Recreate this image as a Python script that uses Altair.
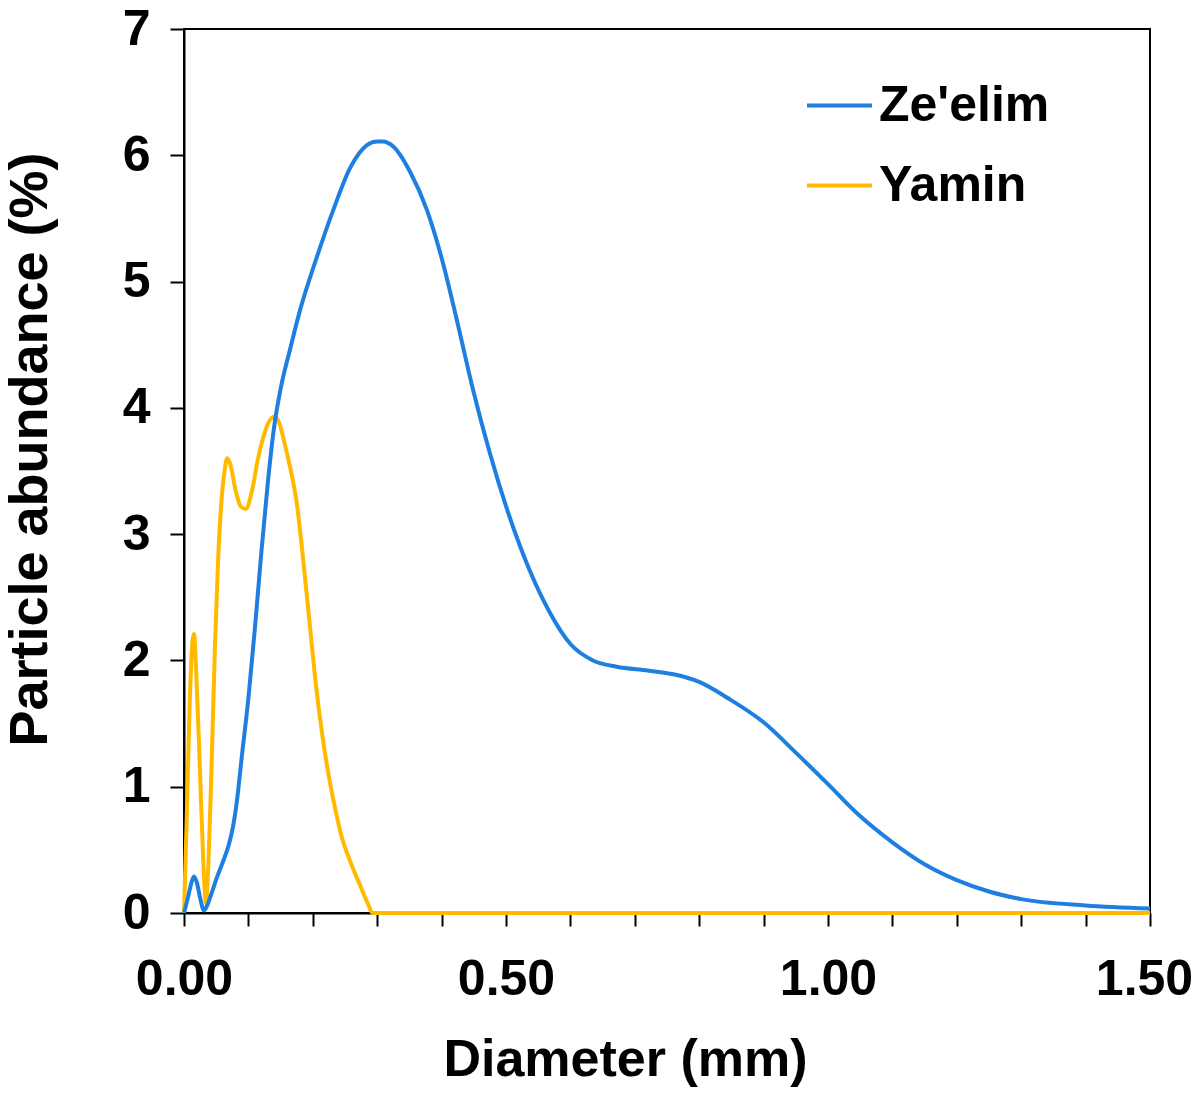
import altair as alt
import pandas as pd

# ---- data ----
zeelim_d = [0.0, 0.006, 0.011, 0.0155, 0.020, 0.025, 0.031, 0.036, 0.043, 0.051,
            0.060, 0.069, 0.076, 0.082, 0.090, 0.100, 0.110, 0.120, 0.130, 0.140,
            0.150, 0.165, 0.180, 0.206, 0.232, 0.258, 0.284, 0.300, 0.309, 0.325,
            0.351, 0.377, 0.403, 0.423, 0.449, 0.475, 0.506, 0.537, 0.568, 0.600,
            0.635, 0.672, 0.720, 0.760, 0.800, 0.845, 0.900, 0.950, 1.000, 1.045,
            1.100, 1.152, 1.200, 1.250, 1.300, 1.400, 1.500]
zeelim_v = [0.0, 0.12, 0.23, 0.29, 0.24, 0.12, 0.02, 0.06, 0.16, 0.28,
            0.40, 0.53, 0.68, 0.88, 1.25, 1.70, 2.25, 2.85, 3.40, 3.85,
            4.15, 4.47, 4.77, 5.19, 5.57, 5.90, 6.08, 6.11, 6.11, 6.07,
            5.87, 5.57, 5.13, 4.71, 4.14, 3.64, 3.13, 2.71, 2.38, 2.13,
            2.00, 1.95, 1.92, 1.89, 1.83, 1.70, 1.51, 1.27, 1.02, 0.79,
            0.56, 0.38, 0.26, 0.17, 0.11, 0.06, 0.035]

yamin_d = [0.0, 0.004, 0.0085, 0.0125, 0.0155, 0.019, 0.025, 0.030, 0.034, 0.038,
           0.043, 0.048, 0.053, 0.058, 0.063, 0.067, 0.072, 0.080, 0.088, 0.096,
           0.105, 0.115, 0.125, 0.133, 0.140, 0.148, 0.157, 0.166, 0.175, 0.185,
           0.195, 0.205, 0.215, 0.225, 0.235, 0.245, 0.255, 0.265, 0.275, 0.285,
           0.293, 0.50, 1.00, 1.50]
yamin_v = [0.0, 0.7, 1.6, 2.1, 2.21, 1.9, 1.1, 0.4, 0.08, 0.4,
           1.2, 2.1, 2.8, 3.25, 3.5, 3.6, 3.55, 3.35, 3.22, 3.2,
           3.33, 3.6, 3.8, 3.9, 3.93, 3.88, 3.7, 3.5, 3.25, 2.8,
           2.3, 1.8, 1.4, 1.08, 0.82, 0.6, 0.45, 0.32, 0.2, 0.08,
           0.0, 0.0, 0.0, 0.0]

series_names = ["Ze'elim", "Yamin"]
series_colors = ["#1E7FE0", "#FFBA00"]

x_ticks = [0.0, 0.1, 0.2, 0.3, 0.4, 0.5, 0.6, 0.7, 0.8, 0.9, 1.0, 1.1, 1.2, 1.3, 1.4, 1.5]
x_labeled = [0.0, 0.5, 1.0, 1.5]
y_ticks = [0, 1, 2, 3, 4, 5, 6, 7]

df = pd.concat([
    pd.DataFrame({"d": zeelim_d, "v": zeelim_v, "s": series_names[0]}),
    pd.DataFrame({"d": yamin_d, "v": yamin_v, "s": series_names[1]}),
], ignore_index=True)

FONT = "Liberation Sans"
label_list = ",".join(str(v) for v in x_labeled)

x_enc = alt.X("d:Q",
              scale=alt.Scale(domain=[0, 1.5], nice=False, zero=False),
              axis=alt.Axis(values=x_ticks,
                            labelExpr=f"indexof([{label_list}], datum.value) >= 0 ? format(datum.value, '.2f') : ''",
                            labelOffset={"condition": {"test": "datum.value == 1.5", "value": -6}, "value": 0},
                            title="Diameter (mm)",
                            tickSize=13, labelPadding=28,
                            titleX=441, titleY=146,
                            titleAlign="center", titleBaseline="middle",
                            grid=False))
y_enc = alt.Y("v:Q",
              scale=alt.Scale(domain=[0, 7], nice=False),
              axis=alt.Axis(values=y_ticks, format="d",
                            title="Particle abundance (%)",
                            titleFontSize=54,
                            tickSize=14, labelPadding=20,
                            titleX=-154, titleY=420, titleAngle=270,
                            titleAlign="center", titleBaseline="middle",
                            grid=False))
color_enc = alt.Color("s:N",
                      scale=alt.Scale(domain=series_names, range=series_colors),
                      legend=alt.Legend(title=None, orient="none",
                                        legendX=621, legendY=42,
                                        symbolType="stroke", symbolSize=4225,
                                        symbolStrokeWidth=4,
                                        labelFontSize=50, labelFont=FONT,
                                        labelFontWeight="bold", labelColor="black",
                                        labelLimit=600,
                                        rowPadding=20, labelOffset=5, padding=0))

base = alt.Chart(df).mark_line(interpolate="monotone", strokeWidth=4)

yamin_layer = base.transform_filter(alt.datum.s == series_names[1]).encode(
    x=x_enc, y=y_enc, color=color_enc)
zeelim_layer = base.transform_filter(alt.datum.s == series_names[0]).encode(
    x=x_enc, y=y_enc, color=color_enc)

chart = alt.layer(yamin_layer, zeelim_layer).properties(
    width=966, height=884,
    autosize=alt.AutoSizeParams(type="none"),
    padding={"left": 176, "top": 21, "right": 42, "bottom": 175},
    background="white",
).configure_view(
    stroke="black", strokeWidth=2
).configure_axis(
    domainColor="black", domainWidth=2,
    tickColor="black", tickWidth=2,
    labelFont=FONT, labelFontSize=50, labelFontWeight="bold", labelColor="black",
    titleFont=FONT, titleFontSize=52, titleFontWeight="bold", titleColor="black",
    labelOverlap=False, labelFlush=False,
)

chart.save("out.html", embed_options={"renderer": "svg", "actions": False})
